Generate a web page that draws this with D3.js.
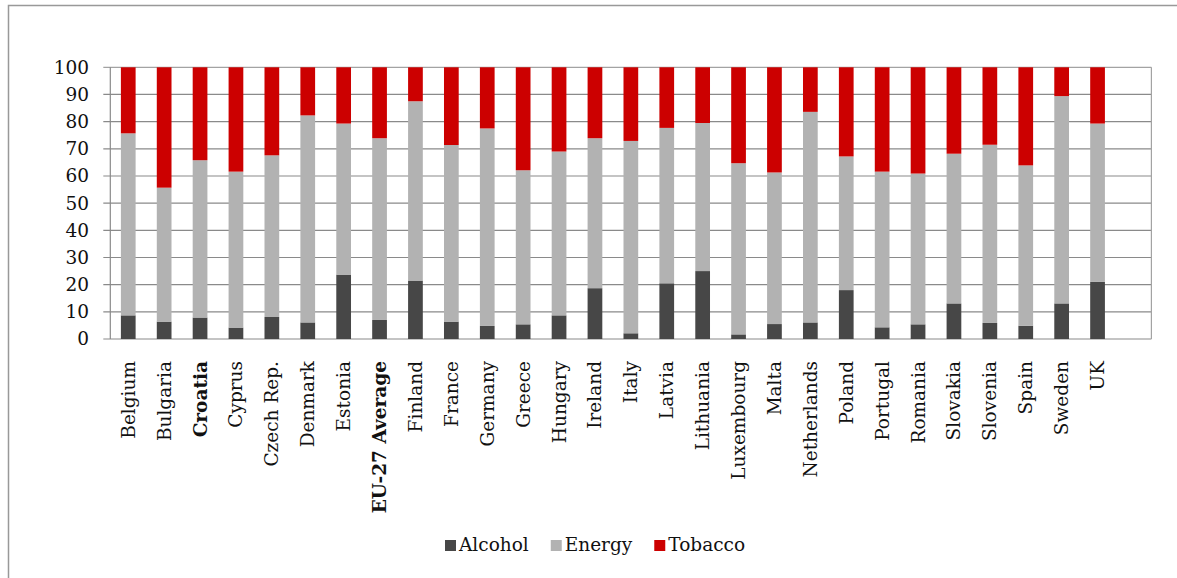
<!DOCTYPE html>
<html>
<head>
<meta charset="utf-8">
<script src="https://cdn.jsdelivr.net/npm/d3@7"></script>
<style>
  html, body { margin: 0; padding: 0; background: #fff; }
  svg { display: block; font-family: "DejaVu Serif", "Liberation Serif", serif; }
</style>
</head>
<body>
<svg id="chart" width="1177" height="578"></svg>
<script>
const categories = ["Belgium","Bulgaria","Croatia","Cyprus","Czech Rep.","Denmark","Estonia","EU-27 Average","Finland","France","Germany","Greece","Hungary","Ireland","Italy","Latvia","Lithuania","Luxembourg","Malta","Netherlands","Poland","Portugal","Romania","Slovakia","Slovenia","Spain","Sweden","UK"];
const boldCategories = ["Croatia", "EU-27 Average"];
const alcohol = [8.7, 6.4, 7.9, 4.2, 8.1, 6.1, 23.7, 7.0, 21.5, 6.4, 4.8, 5.4, 8.7, 18.7, 2.1, 20.5, 25.0, 1.7, 5.5, 6.1, 18.0, 4.3, 5.4, 13.1, 5.9, 4.9, 13.1, 21.0];
const energy  = [67.0, 49.3, 57.9, 57.4, 59.5, 76.2, 55.6, 66.9, 66.0, 65.0, 72.7, 56.7, 60.3, 55.2, 70.8, 57.2, 54.5, 63.0, 55.8, 77.5, 49.2, 57.3, 55.5, 55.1, 65.6, 59.0, 76.3, 58.3];
const tobacco = [24.3, 44.3, 34.2, 38.4, 32.4, 17.7, 20.7, 26.1, 12.5, 28.6, 22.5, 37.9, 31.0, 26.1, 27.1, 22.3, 20.5, 35.3, 38.7, 16.4, 32.8, 38.4, 39.1, 31.8, 28.5, 36.1, 10.6, 20.7];
const seriesNames = ["Alcohol", "Energy", "Tobacco"];
const seriesColors = ["#474747", "#b2b2b2", "#cc0000"];
const yTicks = [0, 10, 20, 30, 40, 50, 60, 70, 80, 90, 100];

const svg = d3.select("#chart");
const FS = 18.5;

// outer frame (only left and top edges visible)
svg.append("rect")
  .attr("x", 8.5).attr("y", 5.5).attr("width", 1200).attr("height", 600)
  .attr("fill", "none").attr("stroke", "#999").attr("stroke-width", 1.5);

const left = 110.3, step = 35.9;
const x = d3.scaleBand().domain(categories)
  .range([left, left + step * categories.length])
  .paddingInner(0.59).paddingOuter(0.295);
const plotRight = x.range()[1] + x.step();
const y = d3.scaleLinear().domain([0, 100]).range([339, 67.3]);

// grid lines
const grid = svg.append("g");
grid.selectAll("line").data(yTicks).join("line")
  .attr("x1", left - 7).attr("x2", plotRight)
  .attr("y1", d => y(d)).attr("y2", d => y(d))
  .attr("stroke", d => d === 100 ? "#a3a3a3" : "#8a8a8a").attr("stroke-width", 1.2);
// left axis & right border
svg.append("line").attr("x1", left).attr("x2", left).attr("y1", y(0)).attr("y2", y(100))
  .attr("stroke", "#8a8a8a").attr("stroke-width", 1.2);
svg.append("line").attr("x1", plotRight).attr("x2", plotRight).attr("y1", y(0)).attr("y2", y(100))
  .attr("stroke", "#a3a3a3").attr("stroke-width", 1.2);
// x ticks below axis
svg.append("g").selectAll("line").data(d3.range(categories.length + 2)).join("line")
  .attr("x1", i => left + i * x.step()).attr("x2", i => left + i * x.step())
  .attr("y1", y(0)).attr("y2", y(0) + 0)
  .attr("stroke", "#8a8a8a");

// y tick labels
svg.append("g").selectAll("text").data(yTicks).join("text")
  .attr("x", 89).attr("y", d => y(d)).attr("dy", "0.35em")
  .attr("text-anchor", "end").attr("font-size", FS).attr("fill", "#111")
  .text(d => d);

// stacked bars
const rows = categories.map((c, i) => ({ cat: c, Alcohol: alcohol[i], Energy: energy[i], Tobacco: tobacco[i] }));
const stack = d3.stack().keys(seriesNames)(rows);
svg.append("g").selectAll("g").data(stack).join("g")
  .attr("fill", (d, i) => seriesColors[i])
  .selectAll("rect").data(d => d).join("rect")
  .attr("x", d => x(d.data.cat))
  .attr("width", x.bandwidth())
  .attr("y", d => y(Math.min(d[1], 100)))
  .attr("height", d => y(d[0]) - y(Math.min(d[1], 100)));

// category labels
svg.append("g").selectAll("text").data(categories).join("text")
  .attr("transform", d => `translate(${x(d) + x.bandwidth() / 2},361) rotate(-90)`)
  .attr("dy", "0.35em")
  .attr("text-anchor", "end").attr("font-size", FS).attr("fill", "#111")
  .attr("font-weight", d => boldCategories.includes(d) ? "bold" : "normal")
  .text(d => d);

// legend
const legend = svg.append("g");
let lx = 445;
seriesNames.forEach((name, i) => {
  legend.append("rect").attr("x", lx).attr("y", 540).attr("width", 11).attr("height", 11)
    .attr("fill", seriesColors[i]);
  const t = legend.append("text").attr("x", lx + 14).attr("y", 550.5)
    .attr("font-size", FS).attr("fill", "#111").text(name);
  lx += 14 + t.node().getComputedTextLength() + 22;
});
</script>
</body>
</html>
